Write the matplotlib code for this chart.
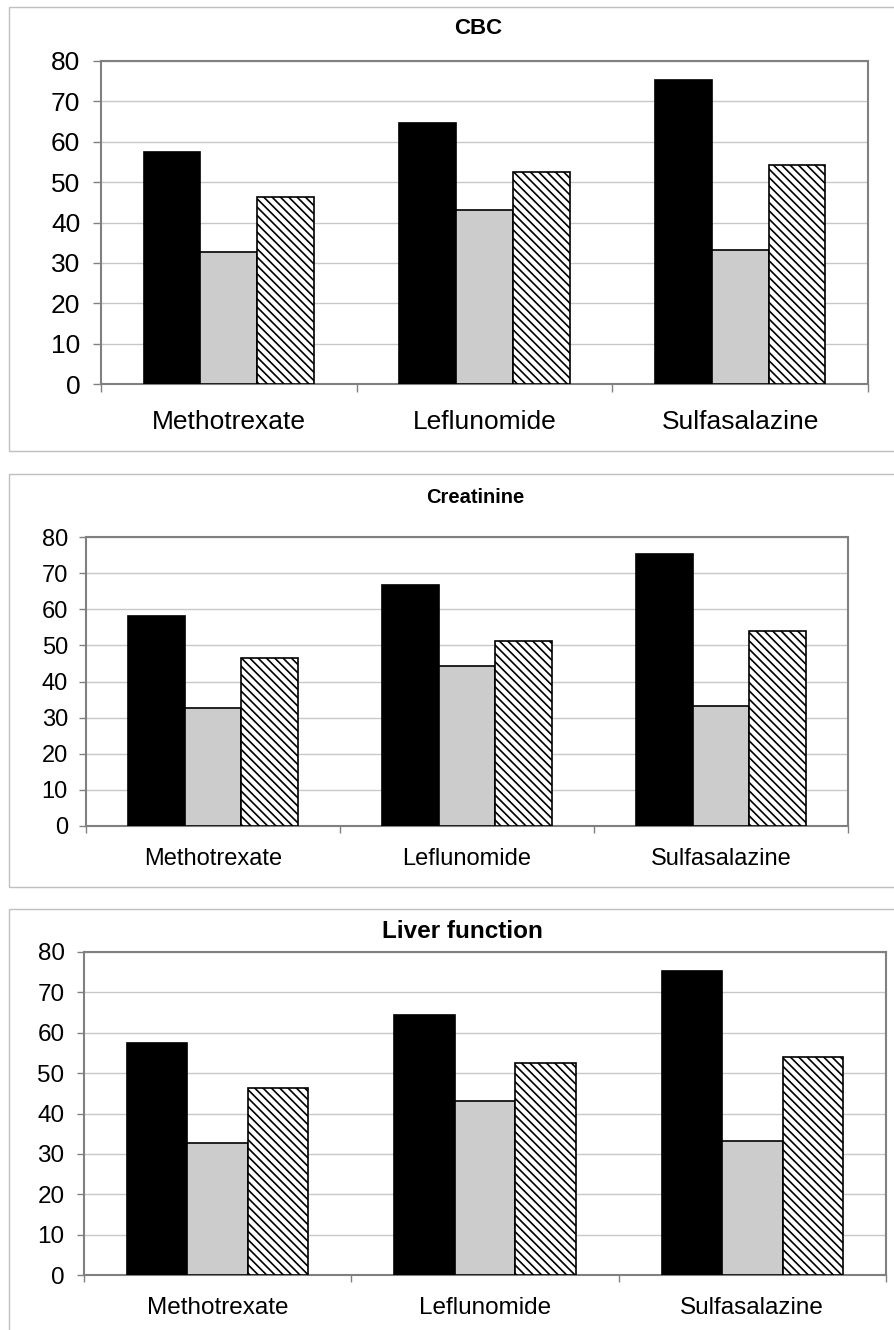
import numpy as np
import matplotlib
matplotlib.use('Agg')
import matplotlib.pyplot as plt
from matplotlib.patches import Rectangle

plt.rcParams['font.family'] = ['Liberation Sans', 'DejaVu Sans']
plt.rcParams['hatch.linewidth'] = 1.2

# ─── Data ────────────────────────────────────────────────────────────────
drugs = ['Methotrexate', 'Leflunomide', 'Sulfasalazine']
yticks = [0, 10, 20, 30, 40, 50, 60, 70, 80]

cbc_black = [57.5, 64.6, 75.3]
cbc_gray = [32.7, 43.1, 33.2]
cbc_hatch = [46.3, 52.5, 54.2]

creat_black = [58.1, 66.8, 75.2]
creat_gray = [32.6, 44.2, 33.1]
creat_hatch = [46.4, 51.1, 54.1]

liver_black = [57.5, 64.5, 75.3]
liver_gray = [32.8, 43.2, 33.3]
liver_hatch = [46.4, 52.4, 54.1]

# ─── Style ───────────────────────────────────────────────────────────────
GRAY_FILL = "#cccccc"
FRAME = "#808080"
GRID = "#c8c8c8"
OUTER = "#c0c0c0"

W, H = 895, 1330
fig = plt.figure(figsize=(W / 100, H / 100), dpi=100)
fig.patch.set_facecolor('white')


def px_axes(left, top, right, bottom):
    return fig.add_axes([left / W, 1 - bottom / H, (right - left) / W, (bottom - top) / H])


def outer_box(top, bottom):
    fig.add_artist(Rectangle((9 / W, 1 - bottom / H), (W + 5 - 9) / W, (bottom - top) / H,
                             transform=fig.transFigure, facecolor='none',
                             edgecolor=OUTER, linewidth=1.0, zorder=0))


def draw_panel(ax, title, title_xy, title_fs, black, gray, hatch, width, fs,
               tick_len, ypad, xpad):
    x = np.arange(len(drugs))
    ax.bar(x - width, black, width, color='black', edgecolor='black', linewidth=1.2, zorder=3)
    ax.bar(x, gray, width, color=GRAY_FILL, edgecolor='black', linewidth=1.2, zorder=3)
    ax.bar(x + width, hatch, width, color='white', edgecolor='black', linewidth=1.2,
           hatch='\\\\\\\\', zorder=3)

    ax.set_xlim(-0.5, len(drugs) - 0.5)
    ax.set_ylim(0, 80)
    ax.set_yticks(yticks)
    ax.yaxis.grid(True, color=GRID, linewidth=1.0, zorder=0)
    ax.set_axisbelow(True)

    # boundary ticks between categories, labels centred in categories
    ax.set_xticks(np.arange(len(drugs) + 1) - 0.5)
    ax.set_xticklabels([])
    ax.set_xticks(x, minor=True)
    ax.set_xticklabels(drugs, minor=True, fontsize=fs)
    ax.tick_params(axis='x', which='major', length=tick_len, color=FRAME, width=1.0)
    ax.tick_params(axis='x', which='minor', length=0, pad=xpad)
    ax.tick_params(axis='y', length=tick_len, color=FRAME, width=1.0, labelsize=fs, pad=ypad)

    for spine in ax.spines.values():
        spine.set_color(FRAME)
        spine.set_linewidth(1.5)

    fig.text(title_xy[0] / W, 1 - title_xy[1] / H, title, ha='center', va='center',
             fontsize=title_fs, fontweight='bold')


# ── 1. CBC ──────────────────────────────────────────────────────────────
outer_box(7, 451)
ax1 = px_axes(101, 61, 868, 384)
draw_panel(ax1, 'CBC', (478, 28), 16, cbc_black, cbc_gray, cbc_hatch,
           width=0.222, fs=19, tick_len=6, ypad=9, xpad=19)

# ── 2. Creatinine ───────────────────────────────────────────────────────
outer_box(474, 887)
ax2 = px_axes(86, 537, 848, 826)
draw_panel(ax2, 'Creatinine', (475, 497), 14.5, creat_black, creat_gray, creat_hatch,
           width=0.224, fs=17, tick_len=5, ypad=8, xpad=16)

# ── 3. Liver function ───────────────────────────────────────────────────
outer_box(909, 1340)
ax3 = px_axes(84, 952, 886, 1275)
draw_panel(ax3, 'Liver function', (462, 932), 17.5, liver_black, liver_gray, liver_hatch,
           width=0.226, fs=17.5, tick_len=5, ypad=9, xpad=16)

fig.savefig('out.png', dpi=100, facecolor='white')
